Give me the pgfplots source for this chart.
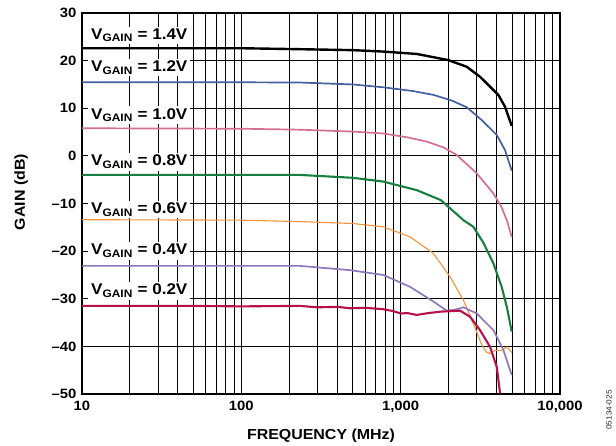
\documentclass[border=0pt]{standalone}
\usepackage{fontspec}
\setmainfont{Liberation Sans}[FakeStretch=1.1]
\usepackage{pgfplots}
\pgfplotsset{compat=1.18}

\definecolor{cblack}{HTML}{000000}
\definecolor{cblue}{HTML}{44609F}
\definecolor{cpink}{HTML}{D46F93}
\definecolor{cgreen}{HTML}{178040}
\definecolor{corange}{HTML}{F7923A}
\definecolor{cpurple}{HTML}{8E78BA}
\definecolor{cred}{HTML}{B8104A}

\newcommand{\vg}[1]{V\textsubscript{GAIN} = #1V}

\begin{document}
\begin{tikzpicture}
\useasboundingbox (0,0) rectangle (616pt,446pt);
\begin{axis}[
  at={(82pt,52pt)}, anchor=south west,
  scale only axis, width=478pt, height=381pt,
  xmode=log, xmin=10, xmax=10000, ymin=-50, ymax=30,
  xtick={10,100,1000,10000},
  xticklabels={10,100,{1,000},{10,000}},
  ytick={-50,-40,...,30},
  yticklabels={–50,–40,–30,–20,–10,0,10,20,30},
  grid=both,
  major grid style={black, line width=1.0pt},
  minor grid style={black, line width=1.0pt},
  major tick length=0pt, minor tick length=0pt,
  axis line style={black, line width=1.6pt},
  /pgf/number format/assume math mode=true,
  tick label style={font=\fontsize{13.5}{15}\selectfont\bfseries},
  xticklabel style={yshift=-4pt},
  yticklabel style={xshift=-2pt},
  xlabel={FREQUENCY (MHz)}, ylabel={GAIN (dB)},
  label style={font=\fontsize{14.5}{16}\selectfont\bfseries},
  xlabel style={at={(axis description cs:0.5,-0.1207)}, anchor=base},
  ylabel style={at={(axis description cs:-0.1276,0.53)}, anchor=center},
]
% 1.4 V
\addplot[cblack, line width=2.4pt] coordinates {
 (10,22.6) (100,22.6) (233,22.4) (500,22.2) (778,21.9) (1262,21.4) (1995,20.1)
 (2602,18.7) (3150,16.6) (3600,14.7) (4103,12.8) (4520,10.3) (4977,6.3)};
% 1.2 V
\addplot[cblue, line width=1.7pt] coordinates {
 (10,15.45) (100,15.45) (233,15.4) (500,15.0) (778,14.4) (1200,13.6) (1607,12.8)
 (2100,11.6) (2602,10.2) (3228,7.5) (4008,4.4) (4520,1.2) (4977,-3.1)};
% 1.0 V
\addplot[cpink, line width=1.7pt] coordinates {
 (10,5.8) (100,5.7) (233,5.5) (500,5.1) (778,4.7) (1100,3.9) (1455,3.0)
 (1850,1.8) (2249,0.2) (3006,-3.7) (3822,-7.9) (4300,-10.8) (4637,-13.5) (4977,-17.0)};
% 0.8 V
\addplot[cgreen, line width=2.1pt] coordinates {
 (10,-4.0) (100,-4.0) (233,-4.0) (500,-4.6) (778,-5.4) (1262,-7.2) (1790,-9.3)
 (2477,-13.5) (2860,-14.9) (3300,-18.2) (3822,-22.6) (4305,-27.5) (4637,-31.7) (4977,-36.9)};
% 0.6 V
\addplot[corange, line width=1.1pt] coordinates {
 (10,-13.4) (100,-13.5) (233,-13.8) (500,-14.2) (778,-14.9) (1146,-17.0) (1607,-20.5)
 (2042,-25.4) (2477,-30.3) (2860,-35.2) (3228,-39.7) (3450,-41.2) (3640,-41.5)
 (3820,-41.0) (4008,-40.8) (4300,-40.9) (4637,-40.1) (4977,-41.3)};
% 0.4 V
\addplot[cpurple, line width=1.7pt] coordinates {
 (10,-23.1) (100,-23.1) (233,-23.1) (481,-24.0) (778,-25.0) (1146,-27.5) (1607,-30.6)
 (1946,-32.5) (2200,-32.3) (2477,-31.8) (3006,-33.1) (3822,-36.6) (4415,-40.8) (4977,-46.0)};
% 0.2 V
\addplot[cred, line width=2.1pt] coordinates {
 (10,-31.5) (50,-31.5) (100,-31.6) (233,-31.5) (300,-31.8) (400,-31.7) (481,-32.0)
 (600,-31.9) (778,-32.2) (900,-32.6) (1000,-33.1) (1100,-33.0) (1262,-33.4)
 (1500,-33.0) (1790,-32.7) (2100,-32.6) (2360,-32.5) (2730,-33.8) (3150,-36.6)
 (3640,-40.1) (4008,-44.3) (4207,-49.9)};

\begin{scope}[every node/.style={fill=white, inner xsep=3pt, inner ysep=2pt,
   anchor=base west, font=\fontsize{15.5}{17}\selectfont\bfseries}]
\node at (axis cs:10.9,24.5) {\vg{1.4}};
\node at (axis cs:10.9,17.7) {\vg{1.2}};
\node at (axis cs:10.9,7.7) {\vg{1.0}};
\node at (axis cs:10.9,-2.1) {\vg{0.8}};
\node at (axis cs:10.9,-12.1) {\vg{0.6}};
\node at (axis cs:10.9,-20.8) {\vg{0.4}};
\node at (axis cs:10.9,-29.2) {\vg{0.2}};
\end{scope}
\end{axis}
\node[rotate=90, font=\fontsize{7.5}{9}\selectfont, text=black!85] at (609pt,36pt) {05134-025};
\end{tikzpicture}
\end{document}
